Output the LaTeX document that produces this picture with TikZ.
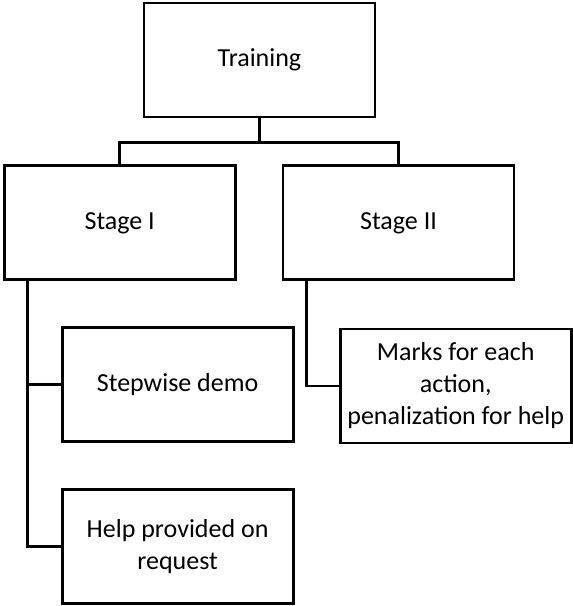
\documentclass[tikz,border=0pt]{standalone}
\usepackage{fontspec}
\setmainfont{Carlito}
\begin{document}
\begin{tikzpicture}[x=1pt,y=-1pt,
  box/.style={draw,line width=2.8pt,rectangle,minimum width=231pt,minimum height=114pt,inner sep=0pt,align=center,font=\fontsize{26}{32}\selectfont},
  link/.style={line width=2.8pt}]
\useasboundingbox (0,0) rectangle (573,606);
\node[box] (train) at (259.5,60) {Training};
\node[box] (stage1) at (119.7,222.8) {Stage I};
\node[box] (stage2) at (398.5,222.8) {Stage II};
\node[box] (step) at (177.6,384.7) {Stepwise demo};
\node[box] (marks) at (455.7,386) {Marks for each\\action,\\penalization for help};
\node[box,minimum height=114pt] (help) at (177.6,546.7) {Help provided on\\request};
\coordinate (bus) at (259.5,142.7);
\coordinate (s1) at (27.4,280);
\coordinate (s2) at (306.3,280);
\draw[link] (train.south) -- (bus);
\draw[link] (stage1.north) |- (bus) -| (stage2.north);
\draw[link] (s1) |- (help.west);
\draw[link] (s1 |- step.west) -- (step.west);
\draw[link] (s2) |- (marks.west);
\end{tikzpicture}
\end{document}
